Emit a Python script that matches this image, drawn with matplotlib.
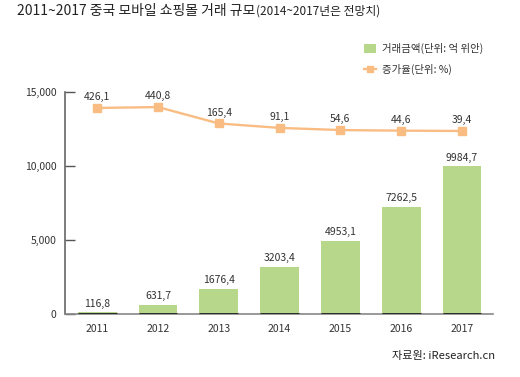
import numpy as np
import matplotlib.pyplot as plt
from matplotlib.lines import Line2D
from matplotlib.patches import Patch

plt.rcParams['font.family'] = ['Noto Sans CJK KR', 'DejaVu Sans']

years = ["2011", "2012", "2013", "2014", "2015", "2016", "2017"]
amount = [116.8, 631.7, 1676.4, 3203.4, 4953.1, 7262.5, 9984.7]
growth = [426.1, 440.8, 165.4, 91.1, 54.6, 44.6, 39.4]
yticks = [0, 5000, 10000, 15000]

green = "#b7d88b"
orange = "#f9bd84"
txt = "#333333"

fig = plt.figure(figsize=(5.2, 3.77), dpi=100)
ax = fig.add_axes([65 / 520, 1 - 314 / 377, (493 - 65) / 520, (314 - 92) / 377])

x = np.arange(len(years))
w = 0.64
ax.bar(x, amount, width=w, color=green, zorder=2)
ax.hlines(np.zeros(len(x)), x - w / 2, x + w / 2, color="#222222", lw=2, zorder=3)
for xi, v in zip(x, amount):
    ax.text(xi, v + 250, f"{v:.1f}".replace(".", ","), ha="center", va="bottom",
            fontsize=7.5, color=txt)

ax.set_xlim(-0.53, 6.51)
ax.set_ylim(0, 15000)
ax.set_xticks(x)
ax.set_xticklabels(years, fontsize=7.5, color=txt)
ax.set_yticks(yticks)
ax.set_yticklabels([f"{t:,}" for t in yticks], fontsize=7.5, color=txt)
ax.tick_params(axis="x", length=0, pad=7)
ax.tick_params(axis="y", direction="in", length=7, width=1, color="#555555", pad=6)
for s in ["top", "right"]:
    ax.spines[s].set_visible(False)
ax.spines["left"].set_color("#666666")
ax.spines["bottom"].set_color("#888888")
ax.spines["left"].set_linewidth(1.2)
ax.spines["bottom"].set_linewidth(1.2)

# growth line on a hidden second scale
ax2 = ax.twinx()
ax2.set_ylim(-3035, 694)
ax2.plot(x, growth, color=orange, lw=1.7, marker="s", ms=5.5, zorder=4)
for xi, v in zip(x, growth):
    ax2.text(xi, v + 100, f"{v:.1f}".replace(".", ","), ha="center", va="bottom",
             fontsize=7.5, color=txt)
ax2.axis("off")

# title, with the smaller note right after it
t1 = fig.text(17 / 520, 1 - 15 / 377, "2011~2017 중국 모바일 쇼핑몰 거래 규모", fontsize=10,
              color="#222222", va="baseline", ha="left")
ax.annotate("(2014~2017년은 전망치)", xy=(1, 0), xycoords=t1, xytext=(0.5, 0),
            textcoords="offset points", fontsize=8.5, color="#222222",
            va="bottom", ha="left", annotation_clip=False)

# legend
handles = [Patch(facecolor=green, edgecolor="none"),
           Line2D([0], [0], color=orange, lw=1.7, marker="s", ms=5)]
labels = ["거래금액(단위: 억 위안)", "증가율(단위: %)"]
fig.legend(handles, labels, loc="upper left", bbox_to_anchor=(355 / 520, 1 - 34 / 377),
           frameon=False, fontsize=7.5, handlelength=1.1, handleheight=0.9,
           handletextpad=0.6, labelspacing=0.9, labelcolor=txt)

fig.text(495 / 520, 1 - 356 / 377, "자료원: iResearch.cn", fontsize=8, color="#222222",
         ha="right", va="center")

fig.savefig("out.png", dpi=100)
